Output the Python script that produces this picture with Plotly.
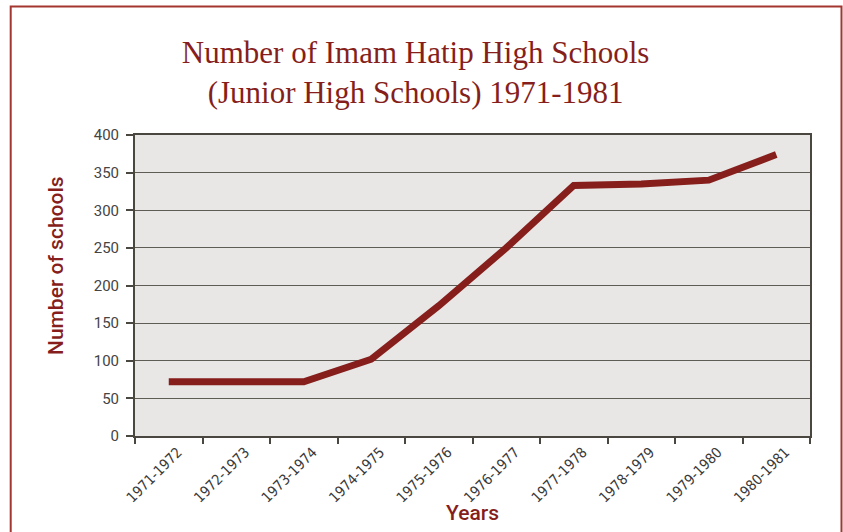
import plotly.graph_objects as go

years = ["1971-1972", "1972-1973", "1973-1974", "1974-1975", "1975-1976",
         "1976-1977", "1977-1978", "1978-1979", "1979-1980", "1980-1981"]
schools = [72, 72, 72, 102, 173, 250, 333, 335, 340, 374]
y_ticks = [0, 50, 100, 150, 200, 250, 300, 350, 400]

RED = "#861f1c"
AXIS = "#4a4740"

fig = go.Figure()
fig.add_trace(go.Scatter(
    x=years, y=schools, mode="lines",
    line=dict(color=RED, width=7),
    hoverinfo="skip", showlegend=False,
))

W, H = 843, 532
L, R, T, B = 135, 33, 135, 96
pw, ph = W - L - R, H - T - B

def px_x(x):
    return (x - L) / pw

def px_y(y):
    return (H - B - y) / ph

fig.add_shape(type="rect", xref="paper", yref="paper",
              x0=px_x(10.7), x1=px_x(841.5), y0=px_y(560), y1=px_y(6.5),
              line=dict(color="#a3362f", width=2), fillcolor="rgba(0,0,0,0)",
              layer="below")

fig.add_annotation(text="Number of schools", xref="paper", yref="paper",
                   x=px_x(56), y=px_y(266), textangle=-90, showarrow=False,
                   xanchor="center", yanchor="middle",
                   font=dict(family="Roboto", size=21, color=RED, weight=500))
fig.add_annotation(text="Years", xref="paper", yref="paper",
                   x=px_x(472), y=px_y(513), showarrow=False,
                   xanchor="center", yanchor="middle",
                   font=dict(family="Roboto", size=21, color=RED, weight=500))

fig.update_layout(
    width=W, height=H,
    margin=dict(l=L, r=R, t=T, b=B),
    paper_bgcolor="white",
    plot_bgcolor="#e8e7e6",
    title=dict(
        text="Number of Imam Hatip High Schools<br>(Junior High Schools) 1971-1981",
        font=dict(family="Liberation Serif", size=31, color=RED),
        x=0.493, xref="container", xanchor="center",
        y=1 - 63 / H, yref="container", yanchor="middle",
    ),
    xaxis=dict(
        type="category",
        tickson="boundaries",
        ticks="outside", ticklen=6, tickwidth=1.5, tickcolor=AXIS,
        tickangle=-45,
        tickfont=dict(family="DejaVu Sans Condensed", size=14.5, color="#3a3a3a"),
        ticklabelshift=9,
        showgrid=False,
        showline=True, linecolor=AXIS, linewidth=2, mirror=True,
        range=[-0.5, 9.5],
        fixedrange=True,
    ),
    yaxis=dict(
        range=[0, 400],
        tickvals=y_ticks,
        ticks="outside", ticklen=7, tickwidth=1.5, tickcolor=AXIS,
        tickfont=dict(family="Roboto", size=15, color="#444"),
        ticklabelstandoff=4,
        showgrid=True, gridcolor="#5f5b55", gridwidth=1,
        showline=True, linecolor=AXIS, linewidth=2, mirror=True,
        zeroline=False,
        fixedrange=True,
    ),
)

fig.write_html("out.html", config={"displayModeBar": False},
               post_script="document.body.style.margin='0';")
